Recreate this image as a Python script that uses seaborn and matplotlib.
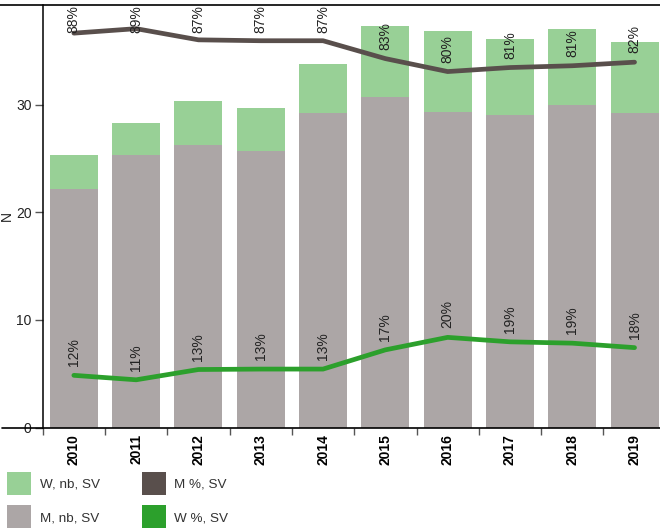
import numpy as np
import pandas as pd
import matplotlib
matplotlib.use("Agg")
import matplotlib.pyplot as plt
import seaborn as sns
from matplotlib.patches import Patch
from matplotlib.lines import Line2D
from matplotlib.ticker import FixedLocator

# ---- data ----
years = ["2010", "2011", "2012", "2013", "2014", "2015", "2016", "2017", "2018", "2019"]
men_nb = [22.17, 25.30, 26.26, 25.73, 29.23, 30.74, 29.35, 29.04, 29.97, 29.23]
women_nb = [3.16, 3.00, 4.07, 3.96, 4.55, 6.57, 7.50, 7.06, 7.06, 6.60]
men_pct = [88.3, 89.3, 86.8, 86.6, 86.6, 82.6, 79.7, 80.6, 81.0, 81.8]
women_pct = [11.7, 10.7, 13.0, 13.1, 13.1, 17.4, 20.2, 19.2, 18.9, 17.9]
legend_labels = ["W, nb, SV", "M, nb, SV", "M %, SV", "W %, SV"]

C_W = "#98D096"
C_M = "#ACA6A6"
C_MLINE = "#594F4C"
C_WLINE = "#2CA02C"
TXT = "#222222"
FS = 10

sns.set_theme(style="white")
plt.rcParams['font.family'] = ['Liberation Sans', 'DejaVu Sans']

df = pd.DataFrame({"year": years, "M": men_nb, "W": women_nb,
                   "Mp": men_pct, "Wp": women_pct})
df["total"] = df["M"] + df["W"]
df["pos"] = np.arange(len(df))

W, H = 660, 528
fig = plt.figure(figsize=(W / 100, H / 100), dpi=100)
ax_left, ax_bottom_px, ax_top_px = 42.7, 427.6, 5.0
ax = fig.add_axes([ax_left / W, 1 - ax_bottom_px / H, 623 / W, (ax_bottom_px - ax_top_px) / H])

sns.barplot(data=df, x="year", y="total", color=C_W, width=0.77, saturation=1,
            linewidth=0, ax=ax, errorbar=None)
sns.barplot(data=df, x="year", y="M", color=C_M, width=0.77, saturation=1,
            linewidth=0, ax=ax, errorbar=None)

ax.set_xlim(-0.5, len(years) - 0.5)
ax.set_ylim(0, 39.26)
ax.set_yticks([0, 10, 20, 30])
ax.set_xlabel("")
ax.set_ylabel("N", fontsize=FS, labelpad=1.5, color=TXT)

ax.xaxis.set_minor_locator(FixedLocator(np.arange(-0.5, len(years), 1.0)))
ax.tick_params(axis='x', which='major', length=0, pad=4.6, labelsize=FS,
               labelrotation=90, labelcolor="black")
ax.tick_params(axis='x', which='minor', length=5, width=1, color="#555555", bottom=True)
for lab in ax.get_xticklabels():
    lab.set_fontweight("bold")
ax.tick_params(axis='y', which='major', length=6, width=1, color="#555555",
               pad=2, labelsize=FS, labelcolor=TXT, left=True)

for s in ["top", "right", "bottom"]:
    ax.spines[s].set_visible(False)
ax.spines["left"].set_color("black")
ax.spines["left"].set_linewidth(1.1)

# secondary (percent) axis
ax2 = ax.twinx()
sns.lineplot(data=df, x="pos", y="Mp", color=C_MLINE, lw=3.4, ax=ax2,
             legend=False, solid_capstyle="round", solid_joinstyle="round")
sns.lineplot(data=df, x="pos", y="Wp", color=C_WLINE, lw=3.4, ax=ax2,
             legend=False, solid_capstyle="round", solid_joinstyle="round")
ax2.set_ylim(0, 94.6)
ax2.set_xlim(-0.5, len(years) - 0.5)
ax2.set_axis_off()

OFF = 9
anns = []
for i, (mp, wp) in enumerate(zip(df["Mp"], df["Wp"])):
    for v in (mp, wp):
        a = ax2.annotate(f"{round(v)}%", xy=(i, v), xytext=(0, OFF),
                         textcoords="offset pixels", rotation=90,
                         ha="center", va="bottom", fontsize=FS, color=TXT,
                         annotation_clip=False)
        anns.append(a)

# frame lines spanning the figure
yb = 1 - ax_bottom_px / H
fig.add_artist(Line2D([2 / W, 1], [yb, yb], transform=fig.transFigure,
                      color="black", lw=1.2))
yt = 1 - ax_top_px / H
fig.add_artist(Line2D([0, 1], [yt, yt], transform=fig.transFigure,
                      color="black", lw=1.2))

handles = [Patch(facecolor=C_W, linewidth=0, label=legend_labels[0]),
           Patch(facecolor=C_M, linewidth=0, label=legend_labels[1]),
           Patch(facecolor=C_MLINE, linewidth=0, label=legend_labels[2]),
           Patch(facecolor=C_WLINE, linewidth=0, label=legend_labels[3])]
leg = fig.legend(handles=handles, loc="upper left",
                 bbox_to_anchor=(7.3 / W, 1 - 472.3 / H), ncol=2, frameon=False,
                 fontsize=9.7, handlelength=1.78, handleheight=2.25,
                 handletextpad=0.62, labelspacing=0.75, columnspacing=3.14,
                 borderpad=0, borderaxespad=0)
for t in leg.get_texts():
    t.set_color("#333333")

# keep labels inside the plot area
fig.canvas.draw()
r = fig.canvas.get_renderer()
top = ax.get_window_extent(r).y1
for a in anns:
    bb = a.get_window_extent(r)
    if bb.y1 > top:
        a.xyann = (0, OFF - (bb.y1 - top))

fig.savefig("out.png", dpi=100)
